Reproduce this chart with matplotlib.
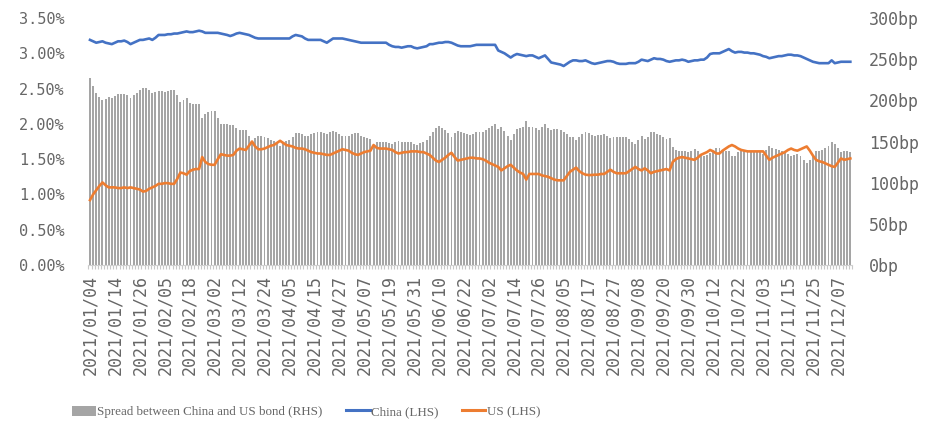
import numpy as np
import matplotlib
matplotlib.use("Agg")
import matplotlib.pyplot as plt
from matplotlib.patches import Patch
from matplotlib.lines import Line2D

# 10-year government bond yields, daily, in percent
china = [
    3.19, 3.17, 3.15, 3.16, 3.17, 3.15, 3.14, 3.13, 3.15, 3.17,
    3.17, 3.18, 3.16, 3.13, 3.15, 3.17, 3.19, 3.19, 3.20, 3.21,
    3.19, 3.22, 3.26, 3.26, 3.26, 3.27, 3.27, 3.28, 3.28, 3.29,
    3.30, 3.31, 3.30, 3.30, 3.31, 3.32, 3.31, 3.29, 3.29, 3.29,
    3.29, 3.29, 3.28, 3.27, 3.26, 3.245, 3.26, 3.28, 3.29, 3.28,
    3.27, 3.26, 3.24, 3.22, 3.21, 3.21, 3.21, 3.21, 3.21, 3.21,
    3.21, 3.21, 3.21, 3.21, 3.21, 3.24, 3.26, 3.25, 3.24, 3.21,
    3.19, 3.19, 3.19, 3.19, 3.19, 3.17, 3.15, 3.18, 3.21, 3.21,
    3.21, 3.21, 3.20, 3.19, 3.18, 3.17, 3.16, 3.15, 3.15, 3.15,
    3.15, 3.15, 3.15, 3.15, 3.15, 3.15, 3.12, 3.10, 3.09, 3.09,
    3.08, 3.09, 3.10, 3.10, 3.08, 3.07, 3.08, 3.09, 3.10, 3.13,
    3.13, 3.14, 3.15, 3.15, 3.16, 3.16, 3.15, 3.13, 3.11, 3.10,
    3.10, 3.10, 3.10, 3.11, 3.12, 3.12, 3.12, 3.12, 3.12, 3.12,
    3.12, 3.04, 3.02, 3.00, 2.97, 2.94, 2.97, 2.99, 2.98, 2.97,
    2.96, 2.97, 2.97, 2.95, 2.93, 2.95, 2.97, 2.92, 2.87, 2.86,
    2.85, 2.84, 2.82, 2.85, 2.88, 2.90, 2.90, 2.89, 2.89, 2.90,
    2.88, 2.86, 2.85, 2.86, 2.87, 2.88, 2.89, 2.89, 2.88, 2.86,
    2.85, 2.85, 2.85, 2.86, 2.86, 2.86, 2.88, 2.91, 2.90, 2.89,
    2.91, 2.93, 2.92, 2.92, 2.91, 2.89, 2.88, 2.89, 2.90, 2.90,
    2.91, 2.90, 2.88, 2.89, 2.90, 2.90, 2.91, 2.91, 2.94, 2.99,
    3.00, 3.00, 3.00, 3.02, 3.04, 3.06, 3.03, 3.01, 3.02, 3.02,
    3.01, 3.01, 3.00, 3.00, 2.99, 2.98, 2.96, 2.95, 2.93, 2.94,
    2.95, 2.96, 2.96, 2.97, 2.98, 2.98, 2.97, 2.97, 2.96, 2.94,
    2.92, 2.90, 2.88, 2.87, 2.86, 2.86, 2.86, 2.86, 2.90, 2.86,
    2.87, 2.88, 2.88, 2.88, 2.88,
]

us = [
    0.92, 1.00, 1.06, 1.12, 1.17, 1.13, 1.10, 1.10, 1.10, 1.09,
    1.09, 1.10, 1.09, 1.10, 1.09, 1.08, 1.07, 1.04, 1.05, 1.08,
    1.10, 1.12, 1.15, 1.15, 1.16, 1.16, 1.15, 1.15, 1.22, 1.31,
    1.30, 1.28, 1.33, 1.35, 1.36, 1.36, 1.53, 1.46, 1.43, 1.42,
    1.42, 1.50, 1.57, 1.56, 1.55, 1.55, 1.56, 1.62, 1.65, 1.64,
    1.63, 1.69, 1.75, 1.68, 1.64, 1.64, 1.65, 1.67, 1.69, 1.70,
    1.73, 1.76, 1.73, 1.70, 1.69, 1.68, 1.66, 1.65, 1.65, 1.64,
    1.62, 1.60, 1.59, 1.58, 1.58, 1.57, 1.56, 1.56, 1.58, 1.60,
    1.62, 1.64, 1.63, 1.62, 1.59, 1.57, 1.56, 1.58, 1.60, 1.61,
    1.62, 1.70, 1.66, 1.65, 1.65, 1.65, 1.64, 1.63, 1.60, 1.58,
    1.59, 1.60, 1.60, 1.61, 1.61, 1.61, 1.60, 1.60, 1.58, 1.56,
    1.52, 1.48, 1.46, 1.49, 1.52, 1.56, 1.59, 1.53, 1.48, 1.49,
    1.50, 1.51, 1.52, 1.52, 1.51, 1.51, 1.50, 1.48, 1.45, 1.43,
    1.41, 1.39, 1.34, 1.37, 1.40, 1.42, 1.38, 1.34, 1.31, 1.29,
    1.21, 1.29, 1.29, 1.29, 1.29, 1.27, 1.26, 1.25, 1.23, 1.21,
    1.20, 1.20, 1.20, 1.26, 1.32, 1.35, 1.38, 1.33, 1.30, 1.28,
    1.275, 1.275, 1.28, 1.28, 1.29, 1.29, 1.32, 1.35, 1.32, 1.30,
    1.30, 1.30, 1.30, 1.33, 1.36, 1.39, 1.36, 1.34, 1.37, 1.34,
    1.30, 1.32, 1.33, 1.34, 1.35, 1.36, 1.34, 1.46, 1.50, 1.52,
    1.53, 1.52, 1.51, 1.50, 1.49, 1.52, 1.56, 1.58, 1.60, 1.63,
    1.61, 1.58, 1.58, 1.62, 1.65, 1.68, 1.70, 1.68, 1.65, 1.63,
    1.62, 1.61, 1.61, 1.61, 1.61, 1.61, 1.61, 1.55, 1.49, 1.52,
    1.54, 1.56, 1.58, 1.60, 1.63, 1.65, 1.63, 1.62, 1.64, 1.66,
    1.68, 1.62, 1.55, 1.49, 1.47, 1.46, 1.44, 1.42, 1.40, 1.39,
    1.45, 1.51, 1.49, 1.50, 1.51,
]

date_labels = [
    "2021/01/04", "2021/01/14", "2021/01/26", "2021/02/05", "2021/02/18",
    "2021/03/02", "2021/03/12", "2021/03/24", "2021/04/05", "2021/04/15",
    "2021/04/27", "2021/05/07", "2021/05/19", "2021/05/31", "2021/06/10",
    "2021/06/22", "2021/07/02", "2021/07/14", "2021/07/26", "2021/08/05",
    "2021/08/17", "2021/08/27", "2021/09/08", "2021/09/20", "2021/09/30",
    "2021/10/12", "2021/10/22", "2021/11/03", "2021/11/15", "2021/11/25",
    "2021/12/07",
]
label_step = 8

left_ticks = [0.0, 0.5, 1.0, 1.5, 2.0, 2.5, 3.0, 3.5]
right_ticks = [0, 50, 100, 150, 200, 250, 300]

china_arr = np.array(china)
us_arr = np.array(us)
spread_bp = (china_arr - us_arr) * 100.0
x = np.arange(len(china))

TXT = "#666666"
TICK_FONT = "DejaVu Sans Mono"

fig = plt.figure(figsize=(9.28, 4.29), dpi=100)
ax = fig.add_axes([0.0953, 0.3823, 0.8227, 0.5757])
ax_r = ax.twinx()

# bars on the right axis, drawn underneath the yield lines
ax_r.bar(x, spread_bp, width=0.62, color="#a5a5a5", zorder=1)
ax_r.set_ylim(0, 300)
ax.set_zorder(ax_r.get_zorder() + 1)
ax.patch.set_visible(False)

ax.plot(x, china_arr, color="#4472c4", lw=1.9, solid_joinstyle="round")
ax.plot(x, us_arr, color="#ed7d31", lw=1.9, solid_joinstyle="round")
ax.set_ylim(0, 3.5)
ax.set_xlim(-0.5, len(x) - 0.5)

for a in (ax, ax_r):
    for s in a.spines.values():
        s.set_visible(False)
ax.spines["bottom"].set_visible(True)
ax.spines["bottom"].set_color("#d0d0d0")

ax.set_yticks(left_ticks)
ax.set_yticklabels([f"{v:.2f}%" for v in left_ticks])
ax_r.set_yticks(right_ticks)
ax_r.set_yticklabels([f"{v}bp" for v in right_ticks])
ax.tick_params(axis="y", length=0, pad=17, labelcolor=TXT, labelsize=11)
ax_r.tick_params(axis="y", length=0, pad=12, labelcolor=TXT, labelsize=12)

ax.set_xticks(np.arange(0, len(x), label_step)[:len(date_labels)])
ax.set_xticklabels(date_labels, rotation=90)
ax.set_xticks(np.arange(-0.5, len(x), 1), minor=True)
ax.tick_params(axis="x", which="major", length=0, pad=7, labelcolor=TXT, labelsize=12)
ax.tick_params(axis="x", which="minor", length=3, color="#c8c8c8", width=0.8)

for lab in ax.get_xticklabels() + ax.get_yticklabels() + ax_r.get_yticklabels():
    lab.set_fontfamily(TICK_FONT)

handles = [
    Patch(facecolor="#a5a5a5", edgecolor="none"),
    Line2D([0], [0], color="#4472c4", lw=2.2),
    Line2D([0], [0], color="#ed7d31", lw=2.2),
]
labels = ["Spread between China and US bond (RHS)", "China (LHS)", "US (LHS)"]
fig.legend(handles, labels, loc="center", bbox_to_anchor=(0.330, 0.04), ncol=3,
           frameon=False, handlelength=1.8, handleheight=0.8, handletextpad=0.1,
           columnspacing=1.8, prop={"family": "Liberation Serif", "size": 9.4},
           labelcolor=TXT)

fig.savefig("out.png", dpi=100)
